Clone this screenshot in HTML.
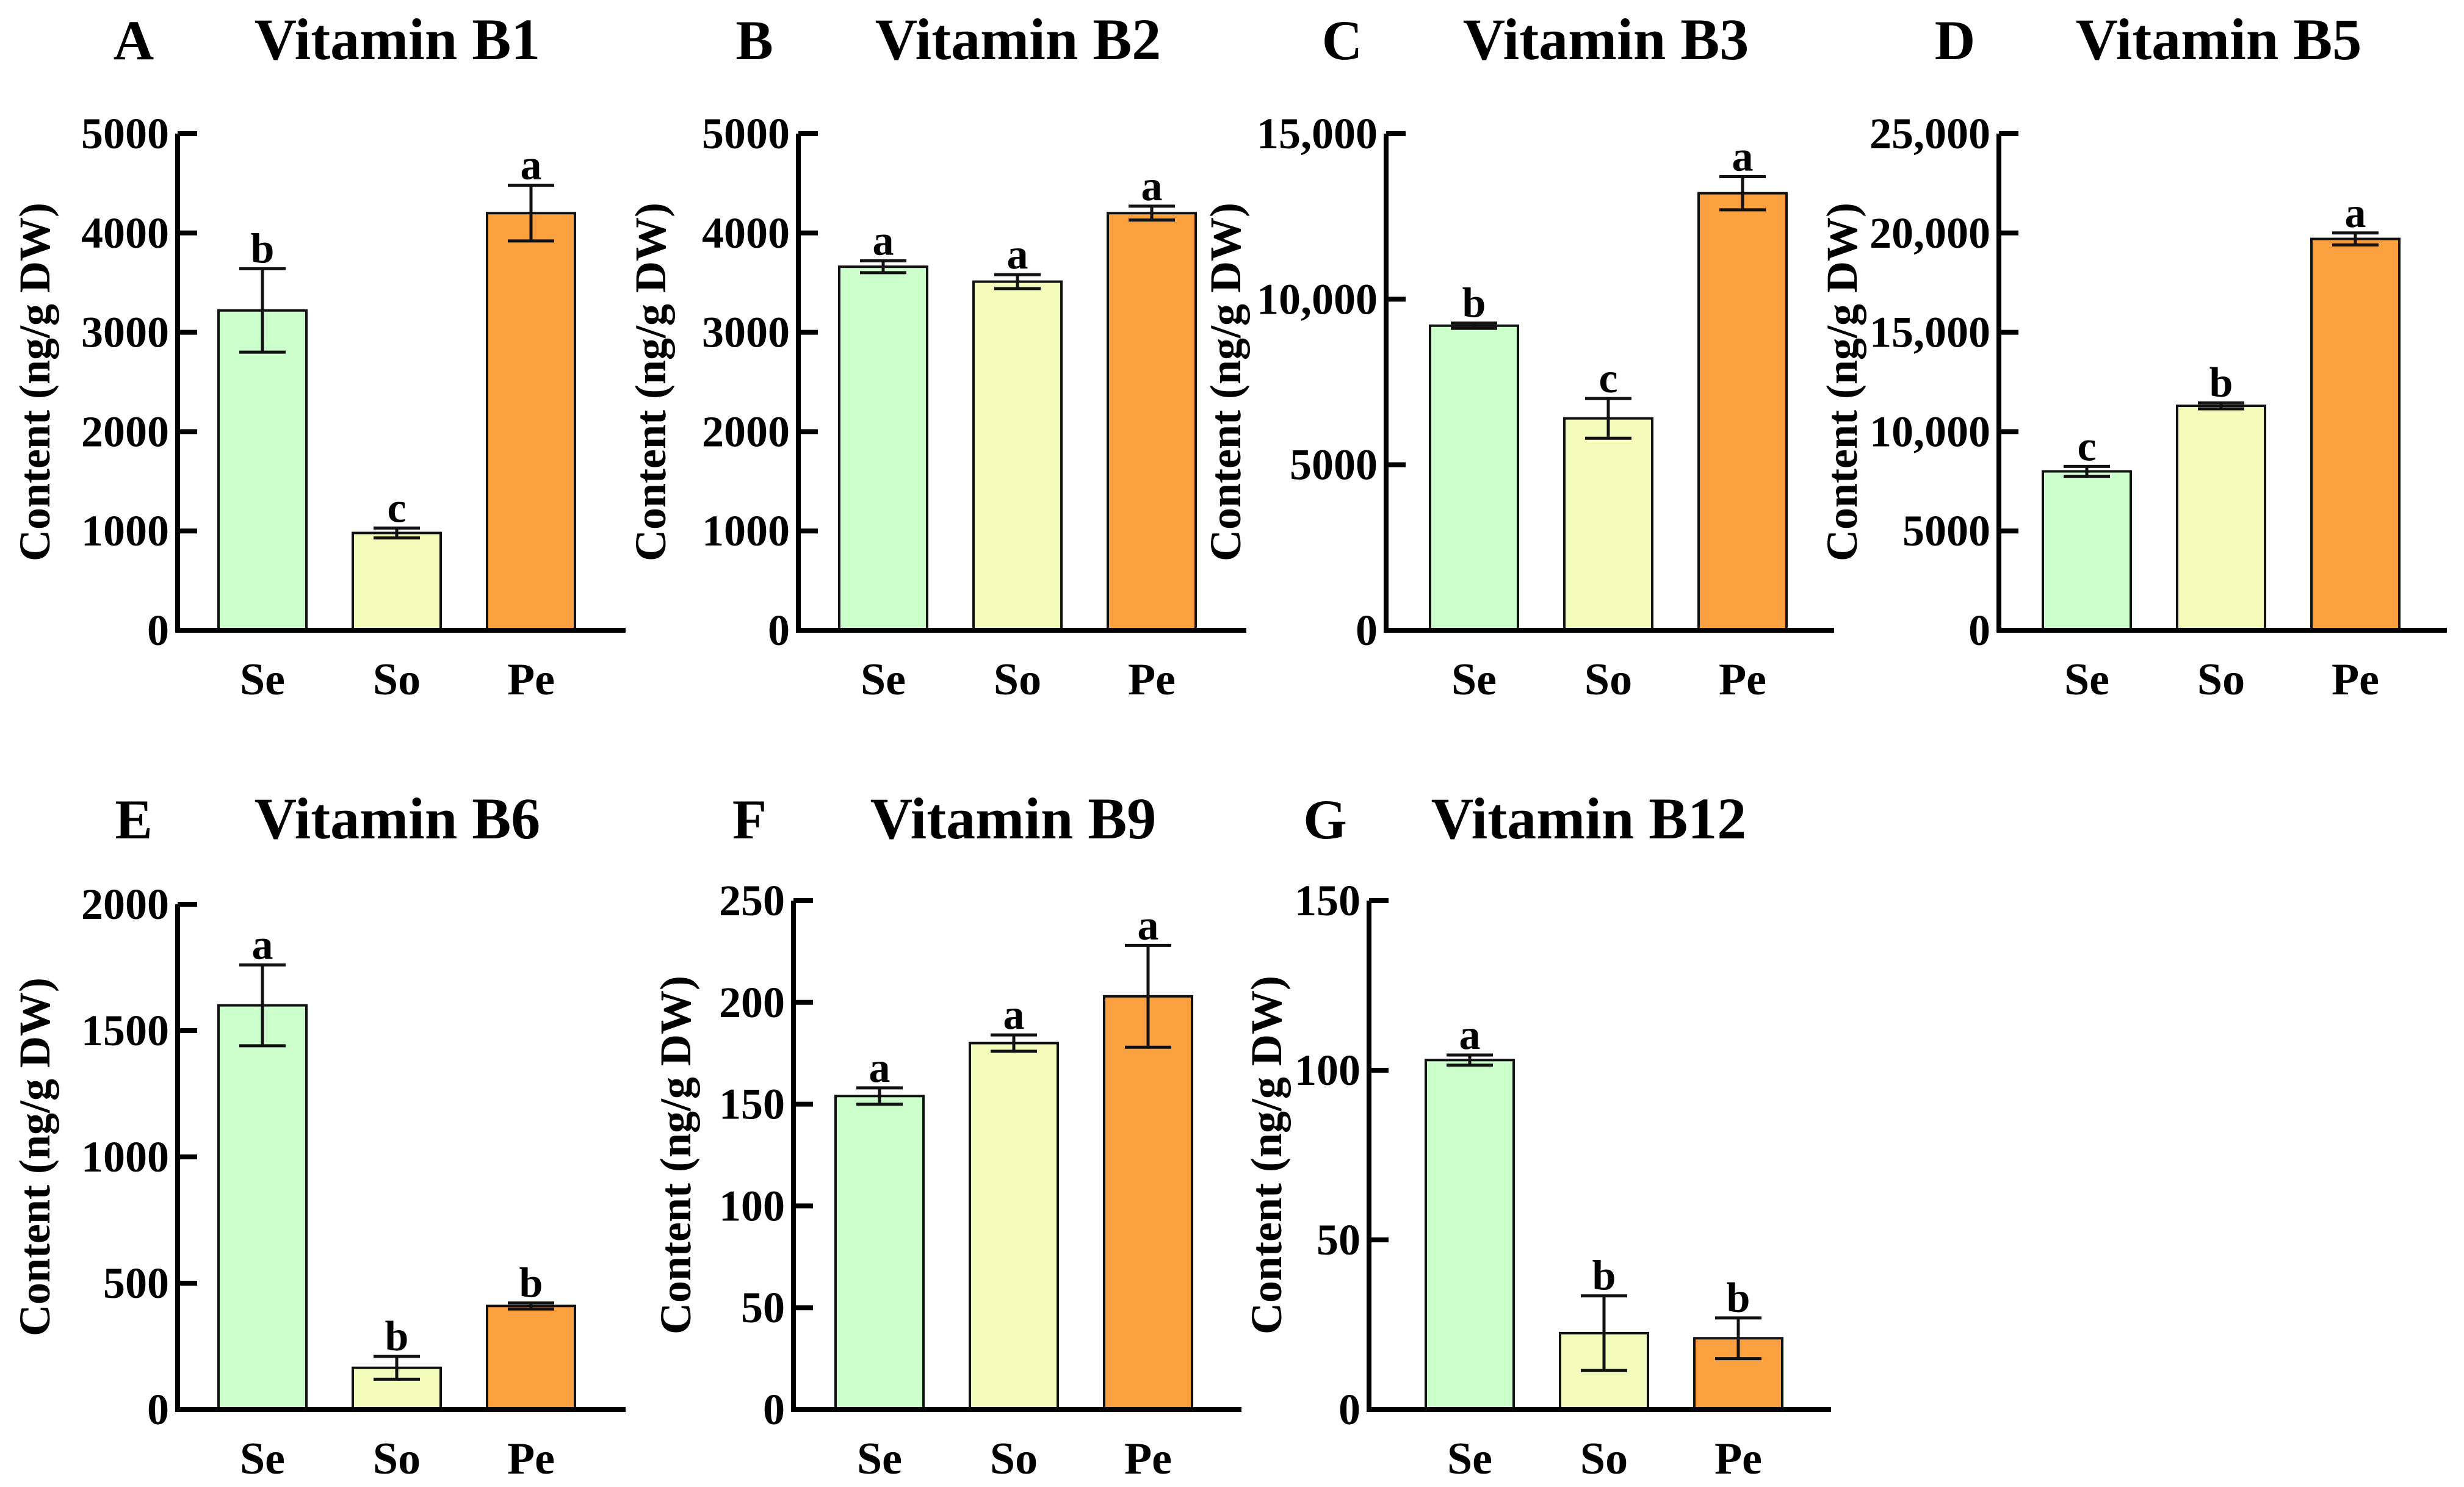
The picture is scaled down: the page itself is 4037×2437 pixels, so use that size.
<!DOCTYPE html>
<html><head><meta charset="utf-8"><style>
html,body{margin:0;padding:0;background:#fff}
svg{display:block}
text{font-family:"Liberation Serif","DejaVu Serif",serif;font-weight:bold;fill:#000}
</style></head><body>
<svg id="fig" width="4037" height="2437" viewBox="0 0 4037 2437" xmlns="http://www.w3.org/2000/svg"></svg>
<script>
const categories = ["Se","So","Pe"];
const b1Values = [3220, 980, 4200];
const b1Errors = [420, 50, 280];
const b1Letters = ["b","c","a"];
const b1Ticks = [0,1000,2000,3000,4000,5000];
const b1TickLabels = ["0","1000","2000","3000","4000","5000"];
const b2Values = [3660, 3510, 4200];
const b2Errors = [60, 70, 70];
const b2Letters = ["a","a","a"];
const b2Ticks = [0,1000,2000,3000,4000,5000];
const b2TickLabels = ["0","1000","2000","3000","4000","5000"];
const b3Values = [9200, 6400, 13200];
const b3Errors = [80, 600, 500];
const b3Letters = ["b","c","a"];
const b3Ticks = [0,5000,10000,15000];
const b3TickLabels = ["0","5000","10,000","15,000"];
const b5Values = [8000, 11300, 19700];
const b5Errors = [250, 150, 300];
const b5Letters = ["c","b","a"];
const b5Ticks = [0,5000,10000,15000,20000,25000];
const b5TickLabels = ["0","5000","10,000","15,000","20,000","25,000"];
const b6Values = [1600, 165, 410];
const b6Errors = [160, 45, 12];
const b6Letters = ["a","b","b"];
const b6Ticks = [0,500,1000,1500,2000];
const b6TickLabels = ["0","500","1000","1500","2000"];
const b9Values = [154, 180, 203];
const b9Errors = [4, 4, 25];
const b9Letters = ["a","a","a"];
const b9Ticks = [0,50,100,150,200,250];
const b9TickLabels = ["0","50","100","150","200","250"];
const b12Values = [103, 22.5, 21];
const b12Errors = [1.5, 11, 6];
const b12Letters = ["a","b","b"];
const b12Ticks = [0,50,100,150];
const b12TickLabels = ["0","50","100","150"];

const colors = ["#ccffcc","#f4fcbc","#fba03f"];
const NS = "http://www.w3.org/2000/svg";
const svg = document.getElementById("fig");
function mk(tag, attrs, parent){const e=document.createElementNS(NS,tag);for(const k in attrs)e.setAttribute(k,attrs[k]);(parent||svg).appendChild(e);return e;}

const panels = [
 {id:"a",letter:"A",title:"Vitamin B1",ax:291,off:139,len:734,top:219,zero:1033,ylx:57,v:b1Values,e:b1Errors,l:b1Letters,t:b1Ticks,tl:b1TickLabels},
 {id:"b",letter:"B",title:"Vitamin B2",ax:1308,off:139,len:734,top:219,zero:1033,ylx:1066,v:b2Values,e:b2Errors,l:b2Letters,t:b2Ticks,tl:b2TickLabels},
 {id:"c",letter:"C",title:"Vitamin B3",ax:2271,off:144,len:734,top:219,zero:1033,ylx:2008,v:b3Values,e:b3Errors,l:b3Letters,t:b3Ticks,tl:b3TickLabels},
 {id:"d",letter:"D",title:"Vitamin B5",ax:3275,off:144,len:734,top:219,zero:1033,ylx:3018,v:b5Values,e:b5Errors,l:b5Letters,t:b5Ticks,tl:b5TickLabels},
 {id:"e",letter:"E",title:"Vitamin B6",ax:291,off:139,len:734,top:1482,zero:2310,ylx:57,v:b6Values,e:b6Errors,l:b6Letters,t:b6Ticks,tl:b6TickLabels},
 {id:"f",letter:"F",title:"Vitamin B9",ax:1300,off:141,len:734,top:1476,zero:2310,ylx:1107,v:b9Values,e:b9Errors,l:b9Letters,t:b9Ticks,tl:b9TickLabels},
 {id:"g",letter:"G",title:"Vitamin B12",ax:2243,off:165,len:757,top:1476,zero:2310,ylx:2075,v:b12Values,e:b12Errors,l:b12Letters,t:b12Ticks,tl:b12TickLabels}
];

panels.forEach(p=>{
  const g = mk("g",{});
  
  
  const max = p.t[p.t.length-1];
  const y = v => p.zero - (v/max)*(p.zero-p.top);
  const xc = i => p.ax + p.off + i*220;
  const bw = 144;
  const rowTitleY = p.top < 500 ? 97 : 1374;
  const pl = mk("text",{x:p.ax-72,y:rowTitleY,"font-size":92,"text-anchor":"middle"},g);
  pl.textContent = p.letter;
  
  
  const tt = mk("text",{x:p.ax+360,y:rowTitleY,"font-size":96,"text-anchor":"middle"},g);
  tt.textContent = p.title;
  
  
  const ym = (p.top+p.zero)/2;
  const yl = mk("text",{x:p.ylx,y:ym,"font-size":72,"text-anchor":"middle","dominant-baseline":"central",transform:`rotate(-90 ${p.ylx} ${ym})`},g);
  yl.textContent = "Content (ng/g DW)";
  
  
  p.v.forEach((v,i)=>{
    const r = mk("rect",{x:xc(i)-bw/2,y:y(v),width:bw,height:p.zero-y(v),fill:colors[i],stroke:"#111","stroke-width":4},g);
    
    
    const hi = y(v+p.e[i]), lo = y(v-p.e[i]);
    const eb = mk("path",{d:`M${xc(i)} ${hi}V${lo}M${xc(i)-38} ${hi}H${xc(i)+38}M${xc(i)-38} ${lo}H${xc(i)+38}`,stroke:"#111","stroke-width":5,fill:"none"},g);
    
    
    const sl = mk("text",{x:xc(i),y:hi-10,"font-size":70,"text-anchor":"middle"},g);
    sl.textContent = p.l[i];
    
    
    const xl = mk("text",{x:xc(i),y:p.zero+105,"font-size":74,"text-anchor":"middle"},g);
    xl.textContent = categories[i];
    
    
  });
  const axl = mk("path",{d:`M${p.ax} ${p.top}V${p.zero}H${p.ax+p.len}`,stroke:"#000","stroke-width":8,fill:"none"},g);
  
  
  p.t.forEach((t,k)=>{
    const tk = mk("line",{x1:p.ax,x2:p.ax+32,y1:y(t),y2:y(t),stroke:"#000","stroke-width":8},g);
    
    
    const lb = mk("text",{x:p.ax-14,y:y(t)+24,"font-size":72,"text-anchor":"end"},g);
    lb.textContent = p.tl[k];
    
    
  });
});
</script>
</body></html>
